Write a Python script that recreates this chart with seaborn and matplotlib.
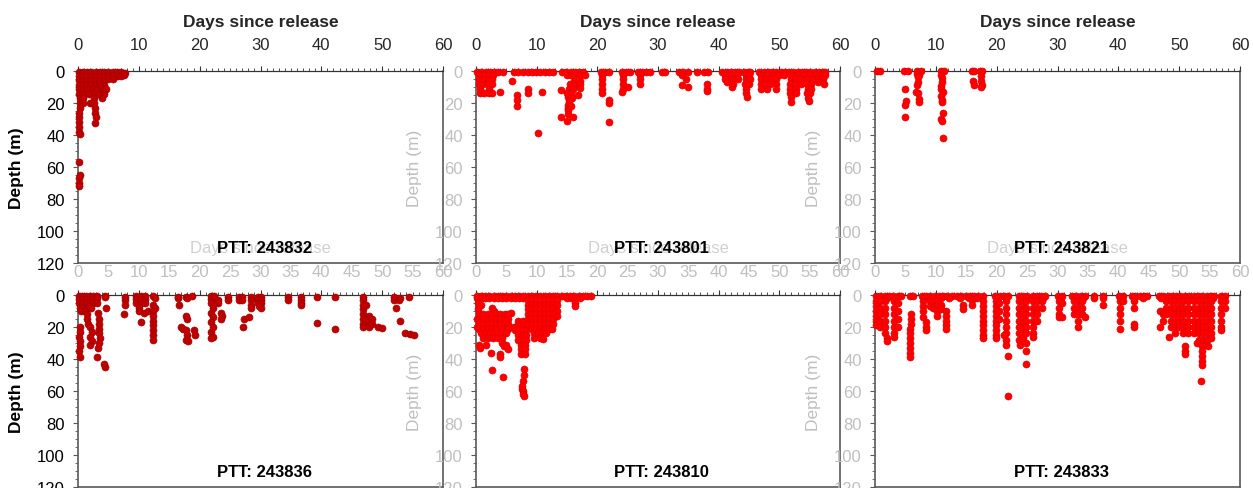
import matplotlib
matplotlib.use("Agg")
import matplotlib.pyplot as plt
import seaborn as sns
import pandas as pd
from matplotlib.ticker import MultipleLocator

# dive records (day since release, depth m)
ptt_243832 = [
    (0.1, 0.5), (0.8, 0.5), (1.5, 0.5), (2.2, 0.5), (2.9, 0.5), (3.6, 0.5), (4.3, 0.5), (5.0, 0.5),
    (5.7, 0.5), (6.4, 0.5), (7.1, 0.5), (7.7, 1.0),
    (0.1, 3), (0.8, 3), (1.5, 3), (2.2, 3), (2.9, 3), (3.6, 3), (4.3, 3), (5.0, 3), (5.7, 3),
    (6.4, 3), (7.1, 3), (7.6, 2.5),
    (0.1, 5.5), (0.8, 5.5), (1.5, 5.5), (2.2, 5.5), (2.9, 5.5), (3.6, 5.5), (4.3, 5.5), (5.0, 5), (5.8, 5),
    (0.1, 8.5), (0.8, 8.5), (1.5, 8.5), (2.2, 8.5), (2.9, 8.5), (3.6, 8.5), (4.3, 8.5),
    (0.1, 11.5), (0.8, 11.5), (1.5, 11.5), (2.4, 11.5), (3.2, 11.5), (4.0, 11.5), (4.6, 11),
    (0.2, 14.5), (0.9, 14.5), (1.8, 14.5), (2.6, 14.5), (3.4, 14.5), (4.2, 14.5),
    (0.3, 17), (0.9, 17), (2.7, 17), (4.0, 17),
    (0.3, 20), (0.8, 20), (1.9, 20), (2.3, 20), (2.7, 20),
    (0.3, 23), (2.8, 23), (0.2, 26), (2.8, 26), (0.2, 29), (2.9, 29), (0.2, 32), (2.8, 32.5),
    (0.1, 35), (0.2, 38), (0.3, 39.5),
    (0.2, 57), (0.3, 65), (0.2, 67), (0.1, 70), (0.2, 72),
]

ptt_243801 = [
    # surface
    (0.2, 0.5), (0.9, 0.5), (1.6, 0.5), (2.3, 0.5), (3.0, 0.5), (3.7, 0.5), (4.4, 0.5), (6.2, 0.5),
    (6.9, 0.5), (7.8, 0.5), (8.5, 0.5), (9.2, 0.5), (9.9, 0.5), (10.6, 0.5), (11.3, 0.5), (12.0, 0.5),
    (12.7, 0.5), (14.2, 0.5), (14.9, 0.5), (15.6, 0.5), (16.3, 0.5), (17.0, 0.5), (17.7, 0.5),
    (20.6, 0.5), (21.3, 0.5), (22.0, 0.5), (24.1, 0.5), (24.8, 0.5), (25.4, 0.5), (26.7, 0.5),
    (27.4, 0.5), (28.1, 0.5), (28.6, 0.5), (30.7, 0.5), (31.1, 0.5), (33.5, 0.5), (34.2, 0.5),
    (35.0, 0.5), (36.5, 0.5), (37.6, 0.5), (38.3, 0.5), (40.6, 0.5), (41.3, 0.5), (42.0, 0.5),
    (42.7, 0.5), (43.4, 0.5), (44.1, 0.5), (44.8, 0.5), (45.2, 0.5), (46.7, 0.5), (47.4, 0.5),
    (48.1, 0.5), (48.8, 0.5), (49.5, 0.5), (50.2, 0.5), (50.9, 0.5), (51.6, 0.5), (52.3, 0.5),
    (53.0, 0.5), (53.7, 0.5), (54.4, 0.5), (55.1, 0.5), (55.8, 0.5), (56.5, 0.5), (57.2, 0.5), (57.6, 0.5),
    (0.5, 2.5), (1.3, 2.5), (2.1, 2.5), (2.8, 2.5), (15.0, 2.5), (15.7, 2.5), (16.4, 2.5), (17.2, 2.5),
    (17.9, 2.5), (20.8, 2.5), (24.3, 2.5), (27.0, 2.5), (34.0, 2.5), (41.0, 2.5), (42.0, 2.5),
    (43.0, 2.5), (44.5, 2.5), (45.0, 2.5), (47.0, 2.5), (48.0, 2.5), (49.0, 2.5), (50.0, 2.5),
    (50.8, 2.5), (52.0, 2.5), (53.0, 2.5), (54.0, 2.5), (55.0, 2.5), (56.0, 2.5), (57.0, 2.5), (57.5, 2.5),
    # dives
    (0.5, 5), (1.3, 5), (2.0, 5), (2.7, 5), (5.9, 6), (16.2, 6), (17.2, 6), (20.8, 5), (24.3, 5),
    (27.0, 5), (34.6, 5), (41.0, 5), (42.2, 5), (43.2, 5), (44.5, 5), (45.1, 5), (47.0, 5), (47.8, 5),
    (48.6, 5), (49.5, 5), (52.0, 5), (52.8, 5), (53.6, 5), (54.6, 5), (55.6, 5), (56.3, 5), (57.2, 5),
    (0.5, 8), (1.2, 8), (2.0, 8), (2.6, 8), (15.5, 8), (16.2, 9), (17.2, 8), (20.7, 8), (24.2, 8),
    (27.0, 8), (34.0, 9), (38.0, 8), (41.3, 7), (42.3, 8), (44.4, 8), (45.0, 8), (47.0, 8), (47.7, 8),
    (48.5, 8), (49.5, 8), (51.8, 8), (52.6, 8), (53.6, 8), (54.5, 8), (55.2, 8), (56.4, 7), (57.3, 8),
    (17.2, 10.5), (0.6, 11), (2.1, 11), (8.5, 11), (15.3, 11), (16.0, 11), (20.8, 11), (24.2, 11),
    (25.0, 10), (35.0, 10), (38.0, 11), (42.2, 10), (44.5, 11), (47.0, 11), (48.0, 11), (49.5, 11),
    (51.8, 11), (52.7, 11), (54.7, 11), (55.3, 11),
    (0.6, 14), (1.3, 14), (2.1, 14), (2.7, 14), (4.0, 13), (8.6, 14), (10.8, 13), (14.0, 12),
    (15.0, 14), (15.6, 14), (16.8, 15), (20.8, 14), (24.1, 13), (38.0, 12.5), (44.5, 14), (51.8, 14),
    (52.7, 14), (54.6, 14), (55.1, 14),
    (6.8, 15), (15.2, 16.5), (15.8, 17), (44.6, 16), (52.0, 16.5), (54.8, 17),
    (6.8, 18), (15.3, 19), (21.9, 18), (52.0, 19.5), (54.9, 18.5), (15.2, 21), (21.9, 20),
    (6.8, 22), (15.1, 23), (15.6, 22), (15.2, 24.5), (15.1, 27), (16.0, 28.5), (14.0, 29),
    (15.0, 31), (21.9, 32), (10.3, 39),
]

ptt_243821 = [
    (0.3, 0.3), (0.9, 0.3), (4.8, 0.3), (5.4, 0.3), (6.9, 0.3), (7.5, 0.3), (6.9, 2), (7.3, 2.5),
    (7.0, 4), (7.0, 7), (6.9, 8.5), (6.8, 13), (7.0, 14), (7.2, 17.5), (7.3, 19.5),
    (5.0, 11), (5.1, 19), (5.0, 21), (4.9, 29),
    (10.8, 0.3), (11.3, 0.3), (10.8, 2.5), (11.0, 4.5), (11.0, 7), (10.9, 9.5), (10.8, 11.5),
    (11.1, 13), (10.9, 15.5), (11.0, 18), (11.0, 19.5), (11.2, 26.5), (10.9, 30), (11.0, 31), (11.1, 42),
    (16.0, 0.3), (16.3, 0.3), (16.1, 6), (16.2, 8.5), (17.3, 0.3), (17.6, 0.3), (17.4, 3),
    (17.5, 6.5), (17.6, 8.5), (17.4, 10),
]

ptt_243836 = [
    (0.1, 0.5), (0.7, 0.5), (1.3, 0.5), (1.9, 0.5), (2.5, 0.5), (0.1, 2.5), (0.7, 2.5), (1.3, 2.5),
    (1.9, 2.5), (2.5, 2.5), (0.1, 5), (0.7, 5), (1.3, 5), (1.9, 5), (2.5, 5), (0.3, 8), (0.9, 8),
    (1.5, 8), (2.2, 8), (0.5, 10), (1.2, 10),
    (0.3, 20), (0.3, 23), (0.2, 26), (0.3, 29), (0.3, 32), (0.2, 35), (0.3, 38.5),
    (1.5, 12), (1.5, 15), (1.6, 18), (1.9, 20), (2.3, 23), (1.9, 26), (2.3, 29), (2.0, 31),
    (3.1, 0.5), (3.1, 2), (3.2, 5), (3.3, 11), (3.5, 15), (3.4, 18), (3.5, 21), (3.4, 24),
    (3.6, 27), (3.4, 30), (3.3, 33), (3.2, 39), (4.3, 43), (4.4, 45),
    (4.5, 0.5), (4.5, 1.5), (4.6, 8),
    (7.7, 1), (7.7, 3), (7.7, 6), (7.6, 12),
    (9.6, 0.5), (10.3, 0.5), (11.0, 0.5), (9.6, 2.5), (10.3, 2.5), (11.0, 2.5), (9.6, 5), (10.3, 5),
    (11.0, 5), (10.0, 8), (10.0, 10), (10.8, 11), (10.3, 17), (11.5, 10),
    (12.3, 0.5), (12.6, 2), (12.4, 6.5), (12.7, 8), (12.3, 10), (12.4, 13), (12.3, 16), (12.4, 19),
    (12.3, 22), (12.4, 25), (12.3, 28),
    (16.5, 1), (16.5, 2), (16.6, 6), (16.9, 20), (17.3, 21), (17.8, 1), (18.0, 2), (17.8, 13),
    (18.0, 15), (17.8, 22), (18.0, 25), (17.8, 28), (18.1, 29), (18.8, 0.5), (19.1, 22), (19.2, 25),
    (21.8, 0.5), (22.3, 0.5), (21.8, 2.5), (22.3, 2.5), (21.8, 5), (22.2, 8), (21.8, 11), (22.2, 14),
    (21.8, 17), (22.2, 20), (21.8, 23), (22.2, 26), (21.8, 27),
    (23.0, 3), (23.0, 5), (23.5, 11), (23.7, 13), (23.5, 15), (24.6, 1), (24.6, 3),
    (26.5, 1), (27.0, 1), (26.5, 3), (27.0, 3), (27.3, 15), (27.2, 20),
    (28.4, 1), (28.4, 3), (28.4, 6), (28.4, 8), (28.1, 13.5),
    (29.6, 1), (30.0, 1), (29.6, 3), (30.0, 3), (29.6, 5), (30.0, 5), (29.8, 7), (30.0, 8),
    (34.6, 1), (34.6, 3), (36.6, 1), (36.6, 3), (36.6, 5), (36.6, 6),
    (39.3, 1), (39.3, 17.5), (42.2, 1), (42.3, 21),
    (46.8, 1), (46.8, 3), (46.8, 6), (46.8, 9), (46.8, 12), (46.8, 15), (46.8, 18), (46.8, 20),
    (47.3, 6), (47.8, 13), (47.8, 15), (47.8, 17), (47.8, 19), (47.8, 20), (48.3, 15), (48.3, 18),
    (49.3, 20), (50.0, 20.5),
    (52.0, 1), (52.0, 3), (52.3, 8), (52.8, 3), (53.0, 2), (53.0, 16), (54.4, 1),
    (53.8, 24), (54.5, 24.5), (55.2, 25),
]

ptt_243810 = [
    # surface
    (0.1, 0.5), (0.8, 0.5), (1.5, 0.5), (2.2, 0.5), (2.9, 0.5), (3.6, 0.5), (4.3, 0.5), (5.0, 0.5),
    (5.7, 0.5), (6.4, 0.5), (7.1, 0.5), (7.8, 0.5), (8.5, 0.5), (9.2, 0.5), (9.9, 0.5), (10.6, 0.5),
    (11.3, 0.5), (12.0, 0.5), (12.7, 0.5), (13.4, 0.5), (14.1, 0.5), (14.8, 0.5), (15.5, 0.5),
    (16.2, 0.5), (16.9, 0.5), (17.6, 0.5), (18.3, 0.5), (18.9, 0.5),
    (0.1, 2), (0.8, 2), (1.5, 2), (2.2, 2), (2.9, 2), (3.6, 2), (4.3, 2), (5.0, 2), (5.7, 2),
    (6.4, 2), (7.1, 2), (7.8, 2), (8.5, 2), (9.2, 2), (9.9, 2), (10.6, 2), (11.3, 2), (12.0, 2),
    (12.7, 2), (15.0, 2), (15.7, 2), (16.4, 2), (17.1, 2),
    (0.3, 5), (0.9, 6), (0.4, 9), (2.6, 8), (3.0, 10), (5.8, 11), (16.3, 5), (16.3, 7),
    (0.2, 15), (0.2, 20),
    # first blob
    (0.5, 12), (1.2, 12), (1.9, 12), (2.6, 12), (3.3, 12), (4.0, 12), (4.7, 12), (5.3, 12),
    (0.5, 15), (1.2, 15), (1.9, 15), (2.6, 15), (3.3, 15), (4.0, 15), (4.7, 15), (5.3, 15),
    (0.5, 18), (1.2, 18), (1.9, 18), (2.6, 18), (3.3, 18), (4.0, 18), (4.7, 18), (5.3, 18),
    (0.5, 21), (1.2, 21), (1.9, 21), (2.6, 21), (3.3, 21), (4.0, 21), (4.7, 21), (5.3, 21),
    (0.9, 24), (1.6, 24), (2.3, 24), (3.0, 24), (3.7, 24), (4.4, 24), (5.0, 24),
    (1.2, 27), (2.0, 27), (2.8, 27), (3.6, 27), (4.3, 27), (4.3, 30), (4.6, 32),
    (6.3, 20), (6.5, 22),
    # column at day 7-8
    (7.0, 16), (7.7, 16), (8.2, 16), (7.0, 19), (7.7, 19), (8.2, 19), (7.0, 22), (7.7, 22), (8.2, 22),
    (7.0, 25), (7.7, 25), (8.2, 25), (7.0, 28), (7.7, 28), (8.2, 28), (7.4, 31), (8.0, 31),
    (7.4, 34), (8.0, 34), (7.4, 37), (8.0, 37), (7.9, 46), (7.9, 50), (7.8, 54), (7.6, 57),
    (7.5, 58.5), (7.8, 60), (7.8, 62), (7.9, 63),
    # second blob
    (8.5, 3), (9.2, 3), (9.9, 3), (10.6, 3), (11.3, 3), (12.0, 3), (12.7, 3), (13.3, 3),
    (8.5, 6), (9.2, 6), (9.9, 6), (10.6, 6), (11.3, 6), (12.0, 6), (12.7, 6), (13.3, 6),
    (8.5, 9), (9.2, 9), (9.9, 9), (10.6, 9), (11.3, 9), (12.0, 9), (12.7, 9), (13.3, 10),
    (8.5, 12), (9.2, 12), (9.9, 12), (10.6, 12), (11.3, 12), (12.0, 12), (12.7, 12), (13.3, 13),
    (8.5, 15), (9.2, 15), (9.9, 15), (10.6, 15), (11.3, 15), (12.0, 15), (12.7, 15),
    (8.5, 18), (9.2, 18), (9.9, 18), (10.6, 18), (11.3, 18), (12.0, 18), (12.7, 18),
    (9.2, 21), (9.9, 21), (10.6, 21), (11.3, 21), (12.0, 21), (12.6, 21),
    (9.5, 24), (10.2, 24), (10.9, 24), (11.6, 24), (9.5, 27), (10.5, 27), (11.0, 27.5),
    # scattered deeper
    (0.5, 31), (0.6, 33), (1.6, 31), (2.5, 36), (4.0, 37), (4.0, 39), (2.6, 47), (4.5, 51),
    (5.0, 31), (5.2, 34),
]

ptt_243833 = [
    # surface
    (0.2, 0.5), (0.9, 0.5), (1.6, 0.5), (2.3, 0.5), (3.0, 0.5), (3.7, 0.5), (4.2, 0.5), (5.8, 0.5),
    (6.3, 0.5), (7.7, 0.5), (8.4, 0.5), (9.1, 0.5), (9.8, 0.5), (10.5, 0.5), (11.2, 0.5), (11.9, 0.5),
    (12.6, 0.5), (13.5, 0.5), (14.2, 0.5), (14.9, 0.5), (15.6, 0.5), (16.3, 0.5), (17.0, 0.5),
    (17.7, 0.5), (19.8, 0.5), (20.5, 0.5), (21.2, 0.5), (21.9, 0.5), (23.7, 0.5), (24.4, 0.5),
    (25.0, 0.5), (25.9, 0.5), (26.6, 0.5), (27.3, 0.5), (28.0, 0.5), (30.1, 0.5), (30.8, 0.5),
    (32.4, 0.5), (33.1, 0.5), (33.8, 0.5), (34.5, 0.5), (36.0, 0.5), (37.5, 0.5), (40.1, 0.5),
    (40.8, 0.5), (42.2, 0.5), (42.8, 0.5), (43.6, 0.5), (44.3, 0.5), (44.7, 0.5), (46.7, 0.5),
    (47.4, 0.5), (48.1, 0.5), (48.8, 0.5), (49.5, 0.5), (50.2, 0.5), (50.9, 0.5), (51.6, 0.5),
    (52.4, 0.5), (53.1, 0.5), (53.8, 0.5), (54.5, 0.5), (55.2, 0.5), (55.8, 0.5), (56.8, 0.5), (57.5, 0.5),
    (0.5, 2), (2.0, 2), (3.4, 2), (8.0, 2), (9.4, 2), (10.8, 2), (12.2, 2), (14.0, 2), (15.4, 2),
    (16.8, 2), (20.2, 2), (21.6, 2), (24.0, 2), (24.8, 2), (26.2, 2), (27.6, 2), (30.5, 2), (33.0, 2),
    (34.2, 2), (36.0, 2), (37.5, 2), (40.5, 2), (42.5, 2), (44.0, 2), (47.0, 2), (48.4, 2), (49.8, 2),
    (51.2, 2), (52.7, 2), (54.1, 2), (55.5, 2), (57.1, 2),
    # dives
    (0.2, 4), (0.2, 7), (0.2, 10), (0.2, 13), (0.2, 16), (0.2, 19), (0.9, 4), (0.9, 8), (0.9, 12),
    (0.9, 16), (0.9, 20), (1.6, 4), (1.6, 8), (1.6, 12), (1.6, 16), (1.6, 20), (1.6, 24), (2.0, 27), (2.0, 29),
    (3.2, 4), (3.2, 8), (3.2, 12), (3.2, 16), (3.2, 20), (3.2, 24), (3.2, 26), (3.8, 5), (3.8, 10),
    (3.8, 15), (3.8, 20),
    (5.9, 12), (5.9, 15), (5.9, 18), (5.7, 21), (5.7, 24), (5.7, 27), (5.7, 30), (5.7, 33), (5.7, 36), (5.7, 39),
    (7.9, 4), (7.9, 7), (7.9, 10), (7.9, 14), (8.4, 17), (8.4, 20), (8.4, 22), (9.0, 4), (9.0, 7),
    (9.6, 4), (9.6, 8), (10.2, 4), (10.2, 7), (10.2, 10), (10.2, 13), (10.8, 6), (10.8, 9),
    (11.6, 10), (11.6, 13), (11.6, 16), (11.6, 19), (11.6, 21), (14.5, 6), (14.5, 9), (16.0, 3), (16.0, 6),
    (17.7, 4), (17.7, 7), (17.7, 10), (17.7, 13), (17.7, 16), (17.7, 19), (17.7, 22), (17.7, 25), (17.7, 27),
    (19.9, 4), (19.9, 7), (19.9, 10), (19.9, 13), (19.9, 16), (19.9, 19), (19.9, 22), (19.9, 25),
    (19.9, 27), (20.4, 5), (20.4, 10), (20.4, 15),
    (21.5, 4), (21.5, 8), (21.5, 12), (21.5, 16), (21.5, 20), (21.5, 24), (21.5, 28), (21.5, 31),
    (21.2, 25), (21.9, 38), (21.9, 63),
    (23.7, 4), (23.7, 8), (23.7, 12), (23.7, 16), (23.7, 20), (23.7, 24), (23.7, 28), (23.8, 31),
    (24.3, 4), (24.3, 8), (24.3, 12), (24.3, 16), (24.3, 20), (24.3, 24), (24.3, 27),
    (24.9, 4), (24.9, 8), (24.9, 12), (24.9, 16), (24.9, 20), (24.9, 24), (24.9, 30), (24.8, 35), (24.8, 43),
    (26.0, 4), (26.0, 8), (26.0, 12), (26.0, 16), (26.0, 20), (26.0, 24), (26.0, 26), (26.7, 4),
    (26.7, 8), (26.7, 12), (26.7, 16), (27.4, 4), (27.4, 8),
    (30.2, 4), (30.2, 8), (30.2, 12), (30.2, 14), (30.7, 5), (30.7, 14),
    (32.7, 4), (32.7, 8), (32.7, 12), (33.4, 4), (33.4, 8), (33.4, 12), (33.4, 16), (33.4, 20),
    (34.0, 4), (34.0, 8), (34.0, 12), (34.6, 14), (37.5, 6),
    (40.2, 4), (40.2, 8), (40.2, 12), (40.2, 16), (40.2, 21), (40.8, 4),
    (42.5, 4), (42.5, 8), (42.5, 18), (42.5, 20),
    (46.8, 10), (46.8, 20), (47.3, 12), (47.3, 16),
    (47.9, 4), (48.6, 4), (49.3, 4), (50.0, 4), (50.7, 4), (51.4, 4),
    (47.9, 8), (48.6, 8), (49.3, 8), (50.0, 8), (50.7, 8), (51.4, 8),
    (47.9, 12), (48.6, 12), (49.3, 12), (50.0, 12), (50.7, 12), (51.4, 12),
    (48.6, 16), (49.3, 16), (50.0, 16), (50.7, 16), (51.4, 16),
    (48.6, 20), (49.3, 20), (50.0, 20), (50.7, 20), (51.4, 20),
    (49.3, 24), (50.7, 24), (51.4, 24), (48.3, 26), (50.9, 32), (50.9, 35), (50.9, 37),
    (52.5, 4), (53.2, 4), (53.9, 4), (54.6, 4), (55.3, 4),
    (52.5, 8), (53.2, 8), (53.9, 8), (54.6, 8), (55.3, 8),
    (52.5, 12), (53.2, 12), (53.9, 12), (54.6, 12), (55.3, 12),
    (52.5, 16), (53.2, 16), (53.9, 16), (54.6, 16), (55.3, 16),
    (52.5, 20), (53.2, 20), (53.9, 20), (54.6, 20), (55.3, 20),
    (52.5, 24), (53.2, 24), (53.9, 24), (54.6, 24), (55.3, 24),
    (53.2, 28), (53.9, 28), (54.6, 28), (55.3, 27), (53.0, 30), (54.7, 32),
    (53.8, 32), (53.8, 35), (53.8, 38), (53.8, 41), (53.8, 44), (53.6, 54),
    (56.9, 4), (56.9, 8), (56.9, 12), (56.9, 16), (56.9, 20), (56.9, 22), (57.5, 4), (57.5, 8),
]

tags = ["243832", "243801", "243821", "243836", "243810", "243833"]
records = [ptt_243832, ptt_243801, ptt_243821, ptt_243836, ptt_243810, ptt_243833]
face_colors = ["#c00000", "#ff0000", "#ff0000", "#c00000", "#ff0000", "#ff0000"]
edge_colors = ["#a00000", "#e00000", "#e00000", "#a00000", "#e00000", "#e00000"]

sns.set_style("ticks")
plt.rcParams["font.family"] = ["Liberation Sans", "DejaVu Sans"]

W, H = 1253, 489
fig = plt.figure(figsize=(W / 100, H / 100), dpi=100)

col_left = [78, 476, 875]
col_width = [365, 364, 365]
row_top = [72, 296]
panel_h = 192
spine_c = "#595959"
grey = "#bfbfbf"

for i, (tag, rec) in enumerate(zip(tags, records)):
    r, c = divmod(i, 3)
    ax = fig.add_axes([col_left[c] / W, 1 - (row_top[r] + panel_h) / H,
                       col_width[c] / W, panel_h / H])
    df = pd.DataFrame(rec, columns=["day", "depth"])
    sns.scatterplot(data=df, x="day", y="depth", ax=ax, s=26, color=face_colors[i],
                    edgecolor=edge_colors[i], linewidth=0.4, zorder=3, clip_on=False)

    ax.set_xlim(0, 60)
    ax.set_ylim(120, 0)
    for side in ["left", "right", "bottom"]:
        ax.spines[side].set_color(spine_c)
        ax.spines[side].set_linewidth(1.2)
    ax.spines["top"].set_color("#333333")

    # depth axis
    ax.set_yticks(range(0, 121, 20))
    ax.yaxis.set_minor_locator(MultipleLocator(5))
    ycol = "black" if c == 0 else grey
    ax.tick_params(axis="y", which="major", length=3.5, color=spine_c, labelsize=12,
                   labelcolor=ycol, pad=6)
    ax.tick_params(axis="y", which="minor", length=2.5, color=spine_c)
    ax.set_ylabel("Depth (m)", fontsize=12.5, color=ycol,
                  fontweight="bold" if c == 0 else "normal", labelpad=9)

    # grey day labels under the top row
    ax.set_xticks(range(0, 61, 5))
    ax.tick_params(axis="x", which="both", length=0, pad=1, labelsize=12, labelcolor=grey,
                   labelbottom=(r == 0))
    ax.set_xlabel("")

    # day axis drawn on top
    top = ax.secondary_xaxis("top")
    top.set_xticks(range(0, 61, 10))
    top.xaxis.set_minor_locator(MultipleLocator(1))
    top.tick_params(which="major", length=3.5, color="#333333", labelsize=12, pad=10,
                    labeltop=(r == 0))
    top.tick_params(which="minor", length=2.5, color="#333333")
    top.spines["top"].set_color("#333333")
    if r == 0:
        top.set_xlabel("Days since release", fontsize=12.5, fontweight="bold", labelpad=8)
        ax.text(0.5, 0.083, "Days since release", transform=ax.transAxes, ha="center",
                va="center", fontsize=12, color="#d0d0d0")

    ax.text(0.51, 0.083, f"PTT: {tag}", transform=ax.transAxes, ha="center", va="center",
            fontsize=12, fontweight="bold", color="black")

fig.savefig("out.png", dpi=100)
